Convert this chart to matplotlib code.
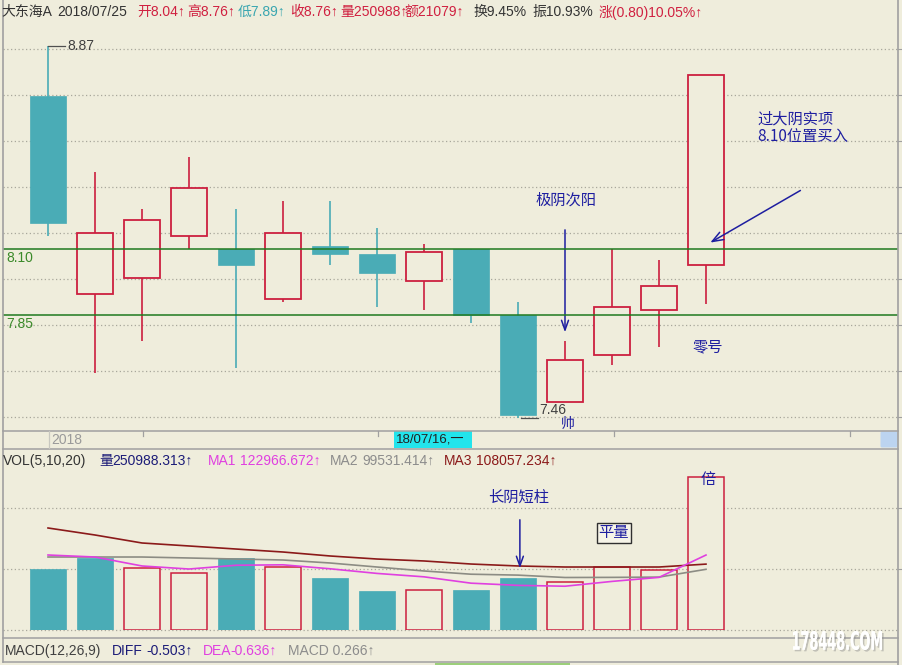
import matplotlib
matplotlib.use('Agg')
import matplotlib.pyplot as plt
import matplotlib.transforms as mtransforms
import matplotlib.patheffects as pe
from matplotlib.patches import Rectangle, FancyBboxPatch, PathPatch
from matplotlib.textpath import TextPath
from matplotlib.font_manager import FontProperties
from matplotlib.transforms import Affine2D
import numpy as np

plt.rcParams['font.family'] = ['Liberation Sans', 'Noto Sans CJK SC', 'DejaVu Sans']

# ---------------- data ----------------
opens  = [8.68, 7.93, 7.99, 8.15, 8.10, 7.91, 8.11, 8.08, 7.98, 8.10, 7.85, 7.52, 7.70, 7.87, 8.04]
highs  = [8.87, 8.39, 8.25, 8.45, 8.25, 8.28, 8.28, 8.18, 8.12, 8.10, 7.90, 7.75, 8.10, 8.06, 8.76]
lows   = [8.15, 7.63, 7.75, 8.10, 7.65, 7.90, 8.04, 7.88, 7.87, 7.82, 7.46, 7.52, 7.66, 7.73, 7.89]
closes = [8.20, 8.16, 8.21, 8.33, 8.04, 8.16, 8.08, 8.01, 8.09, 7.85, 7.47, 7.68, 7.88, 7.96, 8.76]

volumes = [100000, 118000, 101700, 93500, 118000, 103300, 85300, 64000, 65600, 65600,
           85300, 78700, 103300, 98400, 250988]
vol_up  = [False, False, True, True, False, True, False, False, True, False,
           False, True, True, True, True]
ma1 = [123000, 119700, 105000, 100000, 106200, 106900, 100400, 92800, 87200, 76800,
       73200, 71800, 79700, 86300, 122967]
ma2 = [119700, 119700, 119700, 118100, 116400, 114800, 109900, 103300, 96800, 91500,
       90000, 86100, 86300, 86750, 99531]
ma3 = [167300, 155800, 142700, 137800, 132800, 127900, 121400, 116400, 113200, 108200,
       105000, 103300, 103300, 103300, 108057]

support_levels = [8.10, 7.85]
price_grid = np.linspace(7.4636, 8.8576, 9)
vol_grid = [0, 100000, 200000]

# ---------------- style ----------------
BG = '#efeddc'
TEAL = '#4aacb6'
RED = '#cc1f3f'
GREEN = '#1f7a1f'
BLUE = '#1e1ea0'
GRID = '#a8a79c'
BORDER = '#a0a0a0'
DARK = '#333333'

W, H = 903, 665
fig = plt.figure(figsize=(W / 100, H / 100), dpi=100, facecolor=BG)


def px_axes(x0, y0, x1, y1):
    return fig.add_axes([x0 / W, 1 - y1 / H, (x1 - x0) / W, (y1 - y0) / H])


n = len(opens)
idx = np.arange(n)
bw = 0.77
X0, STEP = 48, 47
xlim = ((3 - X0) / STEP, (898 - X0) / STEP)

# ---------------- price panel ----------------
ax = px_axes(3, 30, 898, 430)
ax.set_facecolor('none')
ax.set_xlim(*xlim)
ax.set_ylim(7.4144, 8.9295)
for s in ax.spines.values():
    s.set_visible(False)
ax.set_xticks([]); ax.set_yticks([])

for g in price_grid:
    ax.axhline(g, color=GRID, lw=0.9, ls=(0, (1, 2)), zorder=0)

for i in range(n):
    o, h, l, c = opens[i], highs[i], lows[i], closes[i]
    if c >= o:
        ax.vlines(i, c, h, color=RED, lw=1.2, zorder=2)
        ax.vlines(i, l, o, color=RED, lw=1.2, zorder=2)
        ax.bar(i, c - o, bottom=o, width=bw, facecolor=BG, edgecolor=RED, lw=1.3, zorder=3)
    else:
        ax.vlines(i, l, h, color=TEAL, lw=1.2, zorder=2)
        ax.bar(i, o - c, bottom=c, width=bw, facecolor=TEAL, edgecolor=TEAL, lw=0.5, zorder=3)

blend = mtransforms.blended_transform_factory(ax.transAxes, ax.transData)
for lv in support_levels:
    ax.axhline(lv, color=GREEN, lw=1.1, zorder=4)
    ax.text(0.004, lv - 0.008, f'{lv:.2f}', transform=blend, color='#3b8a2a',
            fontsize=10, va='top', ha='left')

hi_i = int(np.argmax(highs)); lo_i = int(np.argmin(lows))
ax.plot([hi_i, hi_i + 0.36], [highs[hi_i]] * 2, color='#505050', lw=0.9, zorder=4)
ax.text(hi_i + 0.42, highs[hi_i], f'{highs[hi_i]:.2f}', color='#404040', fontsize=10,
        va='center', ha='left')
ax.plot([lo_i + 0.06, lo_i + 0.43], [lows[lo_i]] * 2, color='#505050', lw=0.9, zorder=4)
ax.text(lo_i + 0.45, lows[lo_i] + 0.03, f'{lows[lo_i]:.2f}', color='#404040', fontsize=10,
        va='center', ha='left')

cjk = dict(family=['Noto Sans CJK SC', 'DejaVu Sans'])
ax.text(11.06, 7.437, '帅', color=BLUE, fontsize=10, ha='center', va='center', **cjk)
ax.text(11.02, 8.286, '极阴次阳', color=BLUE, fontsize=11, ha='center', va='center', **cjk)
ax.annotate('', xy=(11, 7.774), xytext=(11, 8.183),
            arrowprops=dict(arrowstyle='->,head_length=0.7,head_width=0.25', color=BLUE, lw=1.1))
ax.text(14.04, 7.729, '零号', color=BLUE, fontsize=11, ha='center', va='center', **cjk)
ax.text(15.09, 8.592, '过大阴实项', color=BLUE, fontsize=11, ha='left', va='center', **cjk)
ax.text(15.09, 8.522, '8.10位置买入', color=BLUE, fontsize=11, ha='left', va='center', **cjk)
ax.annotate('', xy=(14.04, 8.119), xytext=(16.06, 8.327),
            arrowprops=dict(arrowstyle='->,head_length=0.8,head_width=0.3', color=BLUE, lw=1.1))

# ---------------- volume panel ----------------
vax = px_axes(3, 448, 898, 630)
vax.set_facecolor('none')
vax.set_xlim(*xlim)
vax.set_ylim(0, 298480)
for s in vax.spines.values():
    s.set_visible(False)
vax.set_xticks([]); vax.set_yticks([])
for g in vol_grid:
    vax.axhline(g, color=GRID, lw=0.9, ls=(0, (1, 2)), zorder=0, clip_on=False)

for i in range(n):
    if vol_up[i]:
        vax.bar(i, volumes[i], width=bw, facecolor=BG, edgecolor=RED, lw=1.1, zorder=2)
    else:
        vax.bar(i, volumes[i], width=bw, facecolor=TEAL, edgecolor=TEAL, lw=0.5, zorder=2)

vax.plot(idx, ma3, color='#8b1a1a', lw=1.2, zorder=3)
vax.plot(idx, ma2, color='#8c8c84', lw=1.2, zorder=3)
vax.plot(idx, ma1, color='#e040e0', lw=1.2, zorder=3)

vax.text(10.02, 218120, '长阴短柱', color=BLUE, fontsize=11, ha='center', va='center', **cjk)
vax.annotate('', xy=(10.04, 96760), xytext=(10.04, 185320),
             arrowprops=dict(arrowstyle='->,head_length=0.7,head_width=0.25', color=BLUE, lw=1.1))
vax.text(12.04, 159080, '平量', color=BLUE, fontsize=11, ha='center', va='center',
         bbox=dict(boxstyle='square,pad=0.12', facecolor='#f6f4e8', edgecolor='#303030', lw=1.0),
         **cjk)
vax.text(14.04, 247640, '倍', color=BLUE, fontsize=11, ha='center', va='center', **cjk)

# ---------------- overlay: frame, headers, strips ----------------
ov = px_axes(0, 0, W, H)
ov.set_xlim(0, W); ov.set_ylim(H, 0)
ov.axis('off')
ov.patch.set_alpha(0)
ov.set_zorder(10)

for y in (430.5, 448.5, 638, 662):
    ov.plot([3, 898.5], [y, y], color=BORDER, lw=1.1)
ov.plot([3, 3], [0, 662], color=BORDER, lw=1.2)
ov.plot([898.5, 898.5], [0, 665], color=BORDER, lw=1.2)
for y in (49, 95, 141, 187, 233, 279, 325, 371, 417, 508, 569):
    ov.plot([898.5, 903], [y, y], color=BORDER, lw=0.8)

# date strip
for x in (143, 378, 614, 850):
    ov.plot([x, x], [431, 436], color=BORDER, lw=0.9)
ov.plot([49.5, 49.5], [431, 448], color='#c8c8c0', lw=0.9)
ov.text(51, 439.5, '2018', color='#9a9a9a', fontsize=10, va='center', ha='left')
ov.add_patch(Rectangle((394, 431), 78, 17, facecolor='#22e4ec', edgecolor='none'))
ov.text(396, 439.5, '18/07/16,一', color='#222222', fontsize=9.5, va='center', ha='left')
ov.add_patch(FancyBboxPatch((882, 433), 14, 13, boxstyle='round,pad=1.5',
                            facecolor='#bcd4f0', edgecolor='none'))

# header line
red_h = '#d02040'
header = [('大东海A', 1, DARK), ('2018/07/25', 57, DARK), ('开8.04↑', 137, red_h),
          ('高8.76↑', 187, red_h), ('低7.89↑', 238, '#3aa6b0'), ('收8.76↑', 290, red_h),
          ('量250988↑', 340, red_h), ('额21079↑', 404, red_h), ('换9.45%', 473, DARK),
          ('振10.93%', 532, DARK), ('涨(0.80)10.05%↑', 599, red_h)]
for s, x, c in header:
    ov.text(x, 12, s, color=c, fontsize=10, va='center', ha='left')

vol_header = [('VOL(5,10,20)', 3, DARK), ('量', 99, '#1c1c78'), ('250988.313↑', 112, '#1c1c78'),
              ('MA1', 208, '#e040e0'), ('122966.672↑', 240, '#e040e0'),
              ('MA2', 330, '#8c8c8c'), ('99531.414↑', 362, '#8c8c8c'),
              ('MA3', 444, '#8b1a1a'), ('108057.234↑', 476, '#8b1a1a')]
for s, x, c in vol_header:
    ov.text(x, 461, s, color=c, fontsize=10, va='center', ha='left')

macd_header = [('MACD(12,26,9)', 5, '#404040'), ('DIFF', 112, '#1c1c78'), ('-0.503↑', 146, '#1c1c78'),
               ('DEA', 203, '#e040e0'), ('-0.636↑', 230, '#e040e0'), ('MACD 0.266↑', 288, '#8c8c8c')]
for s, x, c in macd_header:
    ov.text(x, 651, s, color=c, fontsize=10, va='center', ha='left')

# bottom cut-off strip
ov.add_patch(Rectangle((435, 662.5), 135, 3, facecolor='#9ccf7a', edgecolor='none'))

# watermark
tp = TextPath((0, 0), '178448.COM', size=10, prop=FontProperties(family='DejaVu Sans', weight='bold'))
bb = tp.get_extents()
tr = Affine2D().translate(-bb.x0, -bb.y0).scale(89 / bb.width, -19 / bb.height).translate(793, 650)
ov.add_patch(PathPatch(tr.transform_path(tp), facecolor='white', edgecolor='none', zorder=5,
                       path_effects=[pe.withSimplePatchShadow(offset=(1.2, -1.2), shadow_rgbFace='#8a8a8a', alpha=0.45),
                                     pe.Normal()]))

fig.savefig('out.png', dpi=100, facecolor=BG)
